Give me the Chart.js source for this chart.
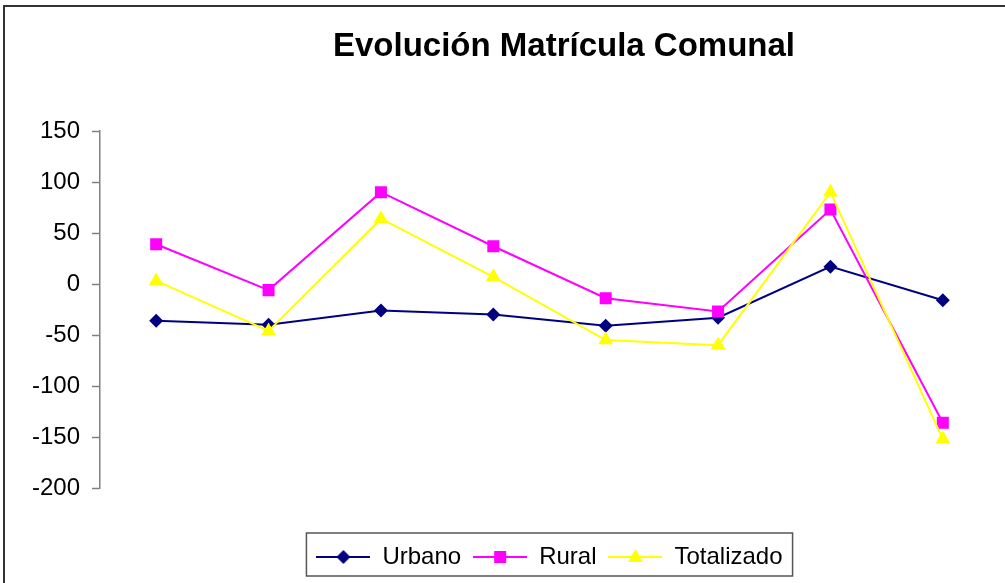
<!doctype html>
<html lang="es">
<head>
<meta charset="utf-8" />
<title>Evolución Matrícula Comunal</title>
<script src="https://cdn.jsdelivr.net/npm/chart.js@4.4.4/dist/chart.umd.min.js"></script>
<style>
  html, body { margin: 0; padding: 0; background: #fff; }
  #wrap { width: 1005px; height: 583px; overflow: hidden; }
  canvas { display: block; }
</style>
</head>
<body>
<div id="wrap"><canvas id="chart" width="1005" height="583"></canvas></div>
<script>
const TITLE = "Evolución Matrícula Comunal";
// periods (category axis labels are not shown in the original)
const categories = ["1", "2", "3", "4", "5", "6", "7", "8"];
const urbano = [-36, -40, -26, -30, -41, -33, 17, -16];
const rural = [39, -6, 90, 37, -14, -27, 73, -136];
const totalizado = [3, -46, 64, 7, -55, -60, 90, -152];
const yTicks = [-200, -150, -100, -50, 0, 50, 100, 150];
const seriesNames = ["Urbano", "Rural", "Totalizado"];

const FONT = "'Liberation Sans', Arial, sans-serif";
const STYLES = [
  { color: "#000080", shape: "rectRot", radius: 7 },
  { color: "#FF00FF", shape: "rect", radius: 8.5 },
  { color: "#FFFF00", shape: "triangle", radius: 8.5 },
];

// small canvas with line + marker, used as legend point style
function swatch(color, shape) {
  const c = document.createElement("canvas");
  c.width = 54;
  c.height = 24;
  const g = c.getContext("2d");
  g.strokeStyle = color;
  g.fillStyle = color;
  g.lineWidth = 2;
  g.beginPath();
  g.moveTo(0, 12);
  g.lineTo(54, 12);
  g.stroke();
  g.beginPath();
  if (shape === "rectRot") {
    g.moveTo(27 - 7, 12); g.lineTo(27, 5); g.lineTo(34, 12); g.lineTo(27, 19);
  } else if (shape === "rect") {
    g.rect(21, 6, 12, 12);
  } else {
    g.moveTo(27, 4); g.lineTo(34.5, 17); g.lineTo(19.5, 17);
  }
  g.closePath();
  g.fill();
  return c;
}

const frame = {
  id: "frame",
  beforeDraw(chart) {
    const { ctx } = chart;
    ctx.save();
    ctx.fillStyle = "#fff";
    ctx.fillRect(0, 0, chart.width, chart.height);
    ctx.strokeStyle = "#333";
    ctx.lineWidth = 2;
    ctx.strokeRect(4, 6, chart.width + 20, chart.height + 20);
    ctx.fillStyle = "#000";
    ctx.font = "bold 33px " + FONT;
    ctx.textAlign = "center";
    ctx.textBaseline = "alphabetic";
    ctx.fillText(TITLE, 564, 56);
    ctx.restore();
  },
  afterDraw(chart) {
    const lg = chart.legend;
    if (!lg || !lg.legendHitBoxes.length) return;
    const boxes = lg.legendHitBoxes;
    const left = Math.min(...boxes.map((b) => b.left)) - 10;
    const right = Math.max(...boxes.map((b) => b.left + b.width)) + 10;
    const { ctx } = chart;
    ctx.save();
    ctx.strokeStyle = "#555";
    ctx.lineWidth = 1.5;
    ctx.strokeRect(left, lg.top, right - left, lg.height - 3);
    ctx.restore();
  },
};

const data = [urbano, rural, totalizado];

new Chart(document.getElementById("chart"), {
  type: "line",
  data: {
    labels: categories,
    datasets: seriesNames.map((name, i) => ({
      label: name,
      data: data[i],
      borderColor: STYLES[i].color,
      backgroundColor: STYLES[i].color,
      borderWidth: 2,
      pointStyle: STYLES[i].shape,
      pointRadius: STYLES[i].radius,
      pointHoverRadius: STYLES[i].radius,
      pointBorderWidth: 0,
      tension: 0,
      order: 3 - i,
    })),
  },
  options: {
    responsive: false,
    animation: false,
    devicePixelRatio: 1,
    layout: { autoPadding: false, padding: { top: 131, right: 6, bottom: 4, left: 0 } },
    scales: {
      x: {
        offset: true,
        grid: { display: false },
        border: { display: false },
        ticks: { display: false },
        afterFit: (s) => { s.height = 45; },
      },
      y: {
        min: -200,
        max: 150,
        afterBuildTicks: (s) => { s.ticks = yTicks.map((v) => ({ value: v })); },
        afterFit: (s) => { s.width = 100; },
        grid: { drawOnChartArea: false, drawTicks: true, tickLength: 8, tickColor: "#808080", tickWidth: 1.5 },
        border: { display: true, color: "#808080", width: 1.5 },
        ticks: { color: "#000", padding: 12, font: { family: FONT, size: 24 } },
      },
    },
    plugins: {
      title: { display: false },
      tooltip: { enabled: false },
      legend: {
        position: "bottom",
        fullSize: false,
        labels: {
          usePointStyle: true,
          pointStyleWidth: 54,
          padding: 12,
          color: "#000",
          font: { family: FONT, size: 24 },
          generateLabels: () =>
            seriesNames.map((name, i) => ({
              text: name,
              pointStyle: swatch(STYLES[i].color, STYLES[i].shape),
              fillStyle: STYLES[i].color,
              strokeStyle: STYLES[i].color,
              lineWidth: 0,
              hidden: false,
              datasetIndex: i,
            })),
        },
      },
    },
  },
  plugins: [frame],
});
</script>
</body>
</html>
